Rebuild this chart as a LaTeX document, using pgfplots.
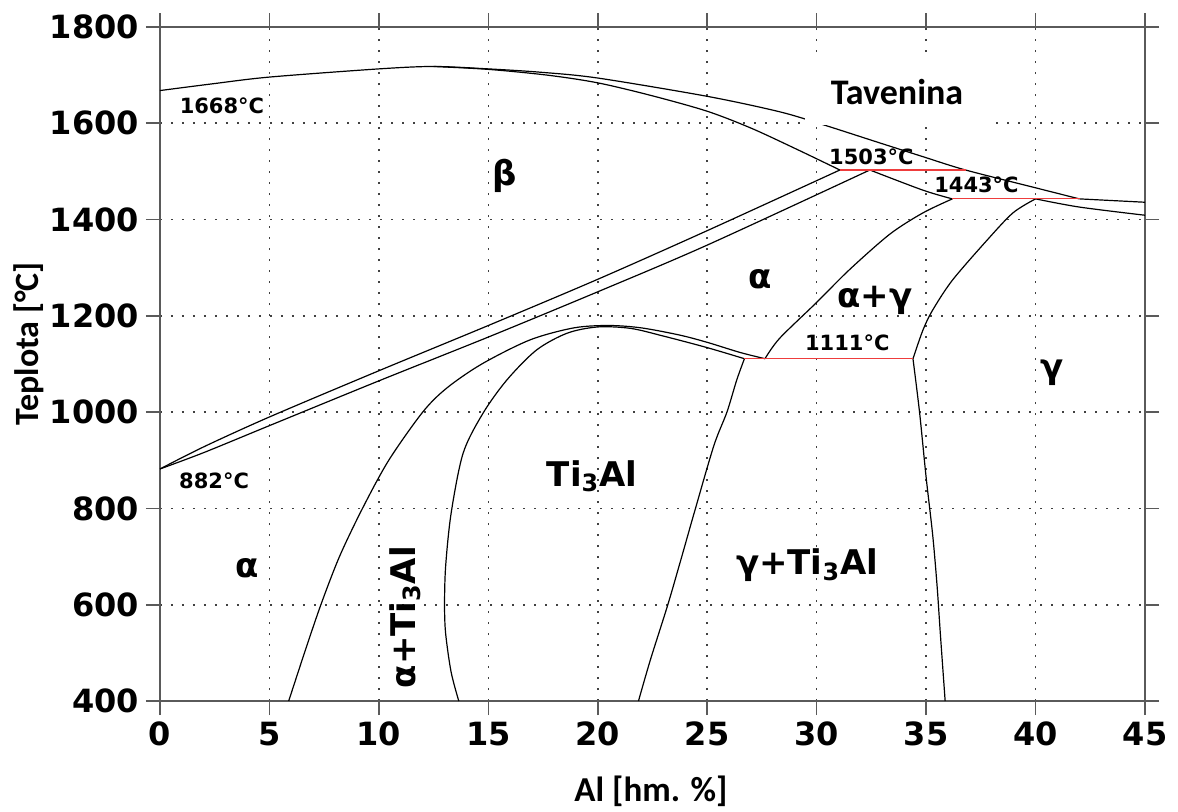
\documentclass[border=0pt]{standalone}
\usepackage{fontspec}
\setmainfont{Carlito}
\newfontfamily\dvs{DejaVu Sans}
\usepackage{pgfplots}
\pgfplotsset{compat=1.18}

\definecolor{eutred}{RGB}{238,60,60}
\definecolor{axgray}{RGB}{90,90,90}

\newcommand\ph{\dvs\bfseries\fontsize{17}{17}\selectfont}
\newcommand\tl{\dvs\bfseries\fontsize{10.5}{10.5}\selectfont}

\begin{document}
\begin{tikzpicture}
\path[use as bounding box] (-80pt,-55pt) rectangle (509pt,350.5pt);
\begin{axis}[
  at={(0,0)}, anchor=south west,
  width=492.5pt, height=337pt, scale only axis,
  xmin=0, xmax=45, ymin=400, ymax=1800,
  xtick={0,5,...,45}, ytick={400,600,...,1800},
  tick align=outside, major tick length=7pt,
  tick style={axgray, line width=0.8pt},
  axis line style={axgray, line width=0.8pt},
  grid=major,
  major grid style={black!75, line width=0.8pt, dash pattern=on 1pt off 4.5pt},
  ticklabel style={font=\dvs\bfseries\fontsize{16}{16}\selectfont},
  /pgf/number format/assume math mode=true,
  /pgf/number format/1000 sep={},
  xlabel={Al [hm. \%]},
  ylabel={Teplota [°C]},
  xlabel style={font=\bfseries\fontsize{17.5}{17.5}\selectfont, at={(axis description cs:0.4985,-0.134)}, anchor=center},
  ylabel style={font=\bfseries\fontsize{17}{17}\selectfont, at={(axis description cs:-0.133,0.53)}, anchor=center},
  curve/.style={black, line width=0.6pt, smooth},
]
% liquidus
\addplot[curve] coordinates {(0,1668) (2.4,1682) (5,1696) (10,1713) (12.5,1718) (15,1713) (17.4,1706) (20,1694) (25,1656) (28.3,1624) (30.3,1597) (32.9,1559) (34.9,1530) (36.8,1503) (40,1466) (42,1443)};
\addplot[curve] coordinates {(42,1443) (45,1436)};
% beta solidus
\addplot[curve] coordinates {(12.5,1718) (15,1712) (17.7,1700) (20,1684) (22.5,1657) (25,1625) (27,1590) (29,1548) (31.06,1503)};
% beta transus
\addplot[curve] coordinates {(0,882) (2,928) (5,990) (10,1086) (15,1180) (20,1276) (25,1377) (31.06,1503)};
% alpha transus
\addplot[curve] coordinates {(0,882) (2,916) (5,972) (10,1065) (15,1156) (20,1250) (25,1347) (32.43,1503)};
% alpha solidus
\addplot[curve] coordinates {(32.43,1503) (34.86,1461) (36.2,1443)};
% gamma solidus
\addplot[curve] coordinates {(40,1443) (42,1426) (45,1409)};
% alpha / alpha+gamma
\addplot[curve] coordinates {(27.64,1111) (28.3,1153) (30,1228) (31.5,1296) (33.35,1370) (34.86,1414) (36.2,1443)};
% gamma / alpha+gamma
\addplot[curve] coordinates {(34.4,1111) (34.86,1171) (35.3,1212) (36.2,1274) (37.8,1358) (38.97,1414) (40,1443)};
% gamma solvus
\addplot[curve] coordinates {(34.4,1111) (34.7,1000) (35.0,865) (35.3,745) (35.5,640) (35.65,540) (35.87,400)};
% Ti3Al right boundary
\addplot[curve] coordinates {(26.7,1111) (26.35,1067) (25.9,1000) (25.3,930) (24.4,790) (23.8,694) (23.2,600) (22.4,485) (21.86,400)};
% Ti3Al left boundary
\addplot[curve] coordinates {(13.65,400) (13.3,460) (13.05,540) (13.0,600) (13.05,680) (13.3,790) (13.85,915) (14.76,998) (15.85,1067) (17.2,1129) (18.6,1164) (20,1177) (21.5,1174) (23,1158) (25,1134) (26.7,1111)};
% alpha / alpha+Ti3Al
\addplot[curve] coordinates {(5.88,400) (6.6,500) (7.35,600) (8.2,700) (9.25,800) (10.45,900) (12.0,1000) (13.1,1050) (14.7,1100) (16.9,1150) (18.9,1175) (20.5,1180) (22,1175) (23.75,1160) (25,1145) (26.5,1124) (27.64,1111)};
% invariant lines
\addplot[eutred, line width=0.6pt] coordinates {(31.06,1503) (36.8,1503)};
\addplot[eutred, line width=0.6pt] coordinates {(36.2,1443) (42.03,1443)};
\addplot[eutred, line width=0.6pt] coordinates {(26.7,1111) (34.4,1111)};

\fill[white] (axis cs:29.47,1597) rectangle (axis cs:38.1,1738);
\node[font=\bfseries\fontsize{18}{18}\selectfont] at (axis cs:33.67,1665) {Tavenina};

\node[font=\tl] at (axis cs:2.83,1636) {1668°C};
\node[font=\tl] at (axis cs:2.47,857) {882°C};
\node[font=\tl] at (axis cs:32.5,1530) {1503°C};
\node[font=\tl] at (axis cs:37.3,1472) {1443°C};
\node[font=\tl] at (axis cs:31.4,1144) {1111°C};

\node[font=\ph] at (axis cs:15.76,1490) {β};
\node[font=\ph] at (axis cs:27.4,1277) {α};
\node[font=\ph] at (axis cs:32.66,1233) {α+γ};
\node[font=\ph] at (axis cs:40.75,1081) {γ};
\node[font=\ph] at (axis cs:19.74,867) {Ti\textsubscript{3}Al};
\node[font=\ph] at (axis cs:29.56,682) {γ+Ti\textsubscript{3}Al};
\node[font=\ph] at (axis cs:3.97,676) {α};
\node[font=\ph, rotate=90] at (axis cs:11.2,574) {α+Ti\textsubscript{3}Al};
\end{axis}
\end{tikzpicture}
\end{document}
